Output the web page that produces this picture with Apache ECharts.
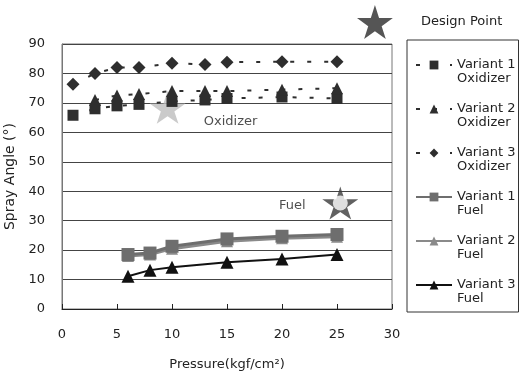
<!DOCTYPE html>
<html>
<head>
<meta charset="utf-8">
<script src="https://cdn.jsdelivr.net/npm/echarts@6/dist/echarts.min.js"></script>
<style>
  html, body { margin: 0; padding: 0; background: #fff; }
  #chart { width: 520px; height: 378px; }
</style>
</head>
<body>
<div id="chart"></div>
<script>
// oxidizer runs
const oxPressure = [1, 3, 5, 7, 10, 13, 15, 20, 25]
const ox2Pressure = [3, 5, 7, 10, 13, 15, 20, 25]
const ox1Angle = [65.8, 68, 69, 69.5, 70.5, 71, 71.5, 72, 71.5]
const ox2Angle = [71, 72.5, 73, 74, 74, 74, 74.5, 75]
const ox3Angle = [76.3, 80, 82, 82, 83.5, 83, 83.8, 84, 84]

// fuel runs
const fuelPressure = [6, 8, 10, 15, 20, 25]
const fuel1Angle = [18.5, 19, 21.3, 23.8, 24.7, 25.3]
const fuel2Angle = [18, 18.5, 20.5, 23, 24, 24.5]
const fuel3Angle = [11.1, 13.2, 14.2, 15.9, 17, 18.5]

// design points: oxidizer, fuel
const designPressure = [9.6, 25.3]
const designAngle = [68.5, 36]
const designLabels = ['Oxidizer', 'Fuel']

const seriesNames = [
  'Variant 1\nOxidizer', 'Variant 2\nOxidizer', 'Variant 3\nOxidizer',
  'Variant 1\nFuel', 'Variant 2\nFuel', 'Variant 3\nFuel'
]

const starPath = 'path://M50,0 L61,35 L98,35 L68,57 L79,91 L50,70 L21,91 L32,57 L2,35 L39,35 Z'
const font = 'DejaVu Sans'

const pairs = (xs, ys) => xs.map((x, i) => [x, ys[i]])

function oxSeries(name, xs, ys, symbol, size) {
  return {
    name,
    type: 'line',
    data: pairs(xs, ys),
    symbol,
    symbolSize: size,
    itemStyle: { color: '#2e2e2e' },
    lineStyle: { color: '#2e2e2e', width: 2, type: [4, 13] },
    z: 3
  }
}

function fuelSeries(name, ys, symbol, size, color, width) {
  return {
    name,
    type: 'line',
    data: pairs(fuelPressure, ys),
    symbol,
    symbolSize: size,
    itemStyle: { color },
    lineStyle: { color, width },
    z: 3
  }
}

const chart = echarts.init(document.getElementById('chart'))
chart.setOption({
  animation: false,
  textStyle: { fontFamily: font },
  grid: {
    left: 62, right: 128, top: 44, bottom: 69,
    outerBoundsMode: 'none',
    show: true, borderColor: '#777', borderWidth: 1
  },
  xAxis: {
    type: 'value',
    min: 0, max: 30, interval: 5,
    name: 'Pressure(kgf/cm²)',
    nameLocation: 'middle',
    nameGap: 49,
    nameTextStyle: { fontSize: 13, color: '#222', fontFamily: font },
    axisLine: { lineStyle: { color: '#222' } },
    axisTick: { inside: true, length: 5, lineStyle: { color: '#222' } },
    axisLabel: { fontSize: 13, color: '#222', margin: 19, fontFamily: font },
    splitLine: { show: false }
  },
  yAxis: {
    type: 'value',
    min: 0, max: 90, interval: 10,
    name: 'Spray Angle (°)',
    nameLocation: 'middle',
    nameGap: 43,
    nameTextStyle: { fontSize: 14, color: '#222', fontFamily: font },
    axisLine: { show: true, lineStyle: { color: '#777' } },
    axisTick: { show: false },
    axisLabel: { fontSize: 13, color: '#222', margin: 17, fontFamily: font },
    splitLine: { lineStyle: { color: '#444', width: 1 } }
  },
  legend: [{
    data: seriesNames,
    orient: 'vertical',
    left: 407, top: 40,
    padding: [4, 3, 6, 8],
    itemGap: 2,
    itemWidth: 36,
    itemHeight: 11,
    borderColor: '#333',
    borderWidth: 1,
    // blank first line keeps the marker level with "Variant n"
    formatter: name => '\n' + name,
    textStyle: { fontFamily: font, fontSize: 13, lineHeight: 14, color: '#222' }
  }, {
    data: [{ name: 'Design Point', icon: starPath, itemStyle: { color: '#2a2a2a' } }],
    left: 357, top: 5,
    padding: 0,
    itemWidth: 36,
    itemHeight: 34,
    textStyle: {
      fontFamily: font, fontSize: 13, color: '#222',
      padding: [0, 0, 0, 23]
    }
  }],
  series: [
    {
      name: 'Design Point',
      type: 'scatter',
      symbol: starPath,
      symbolSize: [36, 33],
      itemStyle: { color: '#2a2a2a' },
      data: designPressure.map((x, i) => ({
        value: [x, designAngle[i]],
        itemStyle: i === 0 ? { color: '#bdbdbd' } : { color: '#3a3a3a' },
        label: {
          show: true,
          formatter: designLabels[i],
          position: 'inside',
          offset: i === 0 ? [63, 14] : [-48, 3],
          color: '#222',
          fontSize: 13,
          fontFamily: font
        }
      })),
      z: 1
    },
    {
      name: 'fuelHole',
      type: 'scatter',
      symbol: 'circle',
      symbolSize: 15,
      itemStyle: { color: '#fff' },
      data: [[designPressure[1], designAngle[1]]],
      z: 2
    },
    oxSeries(seriesNames[0], oxPressure, ox1Angle, 'rect', 11),
    oxSeries(seriesNames[1], ox2Pressure, ox2Angle, 'triangle', 12),
    oxSeries(seriesNames[2], oxPressure, ox3Angle, 'diamond', 13),
    fuelSeries(seriesNames[4], fuel2Angle, 'triangle', 12, '#8a8a8a', 3),
    fuelSeries(seriesNames[3], fuel1Angle, 'rect', 13, '#6e6e6e', 3),
    fuelSeries(seriesNames[5], fuel3Angle, 'triangle', 13, '#111', 2)
  ]
})
</script>
</body>
</html>
